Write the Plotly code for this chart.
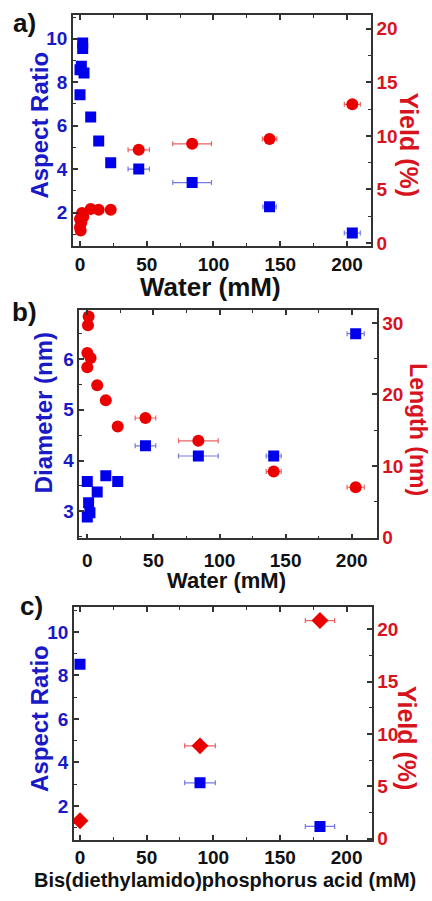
import plotly.graph_objects as go

# ---------------- data ----------------
# Panel a: aspect ratio and yield vs water
a_ar_x = [0, 0, 1, 2, 2, 3, 8, 14, 23, 44, 84, 142, 204]
a_ar_y = [7.42, 8.57, 8.73, 9.55, 9.8, 8.42, 6.4, 5.29, 4.29, 4.0, 3.38, 2.27, 1.06]
a_ar_xerr = [0, 0, 0, 0, 0, 0, 0, 0, 0, 8, 14.5, 5, 6]
a_yd_x = [0, 0, 1, 0.5, 2.5, 1.5, 8, 14, 23, 44, 84, 142, 204]
a_yd_y = [1.48, 2.24, 1.94, 1.17, 2.46, 2.8, 3.17, 3.1, 3.1, 8.7, 9.26, 9.7, 12.95]
a_yd_xerr = [0, 0, 0, 0, 0, 0, 0, 0, 0, 8, 14.5, 5.4, 6]

# Panel b: diameter and length vs water
b_d_x = [0, 1, 2, 0, 7.5, 14, 23, 44, 84, 141, 203]
b_d_y = [3.59, 3.17, 2.97, 2.89, 3.38, 3.7, 3.59, 4.29, 4.09, 4.09, 6.5]
b_d_xerr = [0, 0, 0, 0, 0, 0, 0, 7.8, 15, 5.7, 6.5]
b_l_x = [1, 0.5, 0, 2.5, 0, 7.5, 14, 23, 44, 84, 141, 203]
b_l_y = [30.9, 29.7, 25.8, 25.1, 23.8, 21.3, 19.2, 15.5, 16.7, 13.5, 9.2, 7.0]
b_l_xerr = [0, 0, 0, 0, 0, 0, 0, 0, 7.8, 15, 5.7, 6.5]

# Panel c: aspect ratio and yield vs bis(diethylamido)phosphorus acid
c_ar_x = [0, 90, 180]
c_ar_y = [8.51, 3.06, 1.06]
c_ar_xerr = [0, 11.5, 11]
c_yd_x = [0, 90, 180]
c_yd_y = [1.73, 8.88, 20.85]
c_yd_xerr = [0, 11.5, 11]

# ---------------- style ----------------
W, H = 432, 901
FONT = "Liberation Sans, Arial, sans-serif"
BLUE = "rgb(0,0,235)"
BLUE_T = "rgb(25,25,200)"
BLUE_E = "rgb(120,120,230)"
RED = "rgb(235,0,0)"
RED_T = "rgb(215,20,30)"
RED_E = "rgb(235,100,100)"
AX = "#333333"


def px(x):
    return x / W


def py(y):
    return 1 - y / H


fig = go.Figure()


def add(x, y, err, xa, ya, color, ecolor, symbol, size):
    fig.add_trace(go.Scatter(
        x=x, y=y, mode="markers", xaxis=xa, yaxis=ya,
        marker=dict(color=color, symbol=symbol, size=size, line=dict(width=0)),
        error_x=dict(type="data", array=err, visible=True, color=ecolor,
                     thickness=1.2, width=2.5),
        showlegend=False, hoverinfo="x+y"))


add(a_ar_x, a_ar_y, a_ar_xerr, "x", "y", BLUE, BLUE_E, "square", 11)
add(a_yd_x, a_yd_y, a_yd_xerr, "x", "y2", RED, RED_E, "circle", 12)
add(b_d_x, b_d_y, b_d_xerr, "x2", "y3", BLUE, BLUE_E, "square", 11)
add(b_l_x, b_l_y, b_l_xerr, "x2", "y4", RED, RED_E, "circle", 12)
add(c_ar_x, c_ar_y, c_ar_xerr, "x3", "y5", BLUE, BLUE_E, "square", 11)
add(c_yd_x, c_yd_y, c_yd_xerr, "x3", "y6", RED, RED_E, "diamond", 13)

tickfont_k = dict(family=FONT, size=19, color="#111111", weight="bold")
tickfont_b = dict(family=FONT, size=19, color=BLUE_T, weight="bold")
tickfont_r = dict(family=FONT, size=19, color=RED_T, weight="bold")


def xax(dom, rng, anchor, standoff=0):
    return dict(domain=dom, range=rng, anchor=anchor, dtick=50, tick0=0,
                showline=True, linecolor=AX, linewidth=1.5, mirror="ticks",
                ticks="inside", ticklen=5, tickwidth=1.5, tickcolor=AX,
                minor=dict(dtick=25, ticks="inside", ticklen=3, tickwidth=1.2, tickcolor=AX),
                showgrid=False, zeroline=False, tickfont=tickfont_k,
                ticklabelstandoff=standoff)


def yax(dom, rng, anchor, dtick, mdtick, tf, side="left", overlay=None):
    d = dict(domain=dom, range=rng, anchor=anchor, dtick=dtick, tick0=0,
             showline=True, linecolor=AX, linewidth=1.5, side=side,
             ticks="inside", ticklen=5, tickwidth=1.5, tickcolor=AX,
             minor=dict(dtick=mdtick, ticks="inside", ticklen=3, tickwidth=1.2, tickcolor=AX),
             showgrid=False, zeroline=False, tickfont=tf)
    if overlay:
        d["overlaying"] = overlay
    return d


# plot-area pixel boxes (left, top, right, bottom)
A = (73, 15, 371, 249)
B = (79.3, 313.3, 376.7, 544.3)
C = (74, 614.3, 371.7, 849.3)


def xd(b):
    return [px(b[0]), px(b[2])]


def yd(b):
    return [py(b[3]), py(b[1])]


fig.update_layout(
    width=W, height=H, margin=dict(l=0, r=0, t=0, b=0),
    paper_bgcolor="white", plot_bgcolor="white",
    xaxis=xax(xd(A), [-5.25, 218], "y", 0),
    yaxis=yax(yd(A), [0.45, 11.1], "x", 2, 1, tickfont_b),
    yaxis2=yax(yd(A), [-0.3, 21.3], "x", 5, 2.5, tickfont_r, "right", "y"),
    xaxis2=xax(xd(B), [-6.05, 218.9], "y3", 4),
    yaxis3=yax(yd(B), [2.47, 6.97], "x2", 1, 0.5, tickfont_b),
    yaxis4=yax(yd(B), [-0.14, 31.85], "x2", 10, 5, tickfont_r, "right", "y3"),
    xaxis3=xax(xd(C), [-4.5, 218.8], "y5", 0),
    yaxis5=yax(yd(C), [0.44, 11.12], "x3", 2, 1, tickfont_b),
    yaxis6=yax(yd(C), [-0.1, 22.1], "x3", 5, 2.5, tickfont_r, "right", "y5"),
)


def ann(text, x, y, size, color, angle=0):
    fig.add_annotation(text=text, x=px(x), y=py(y), xref="paper", yref="paper",
                       xanchor="center", yanchor="middle", showarrow=False,
                       textangle=angle,
                       font=dict(family=FONT, size=size, color=color, weight="bold"))


# panel labels
ann("a)", 24, 23, 26, "#111111")
ann("b)", 24, 315, 26, "#111111")
ann("c)", 31, 613, 26, "#111111")
# axis titles
ann("Aspect Ratio", 40, 127, 24, BLUE_T, -90)
ann("Yield (%)", 409, 146, 25, RED_T, 90)
ann("Water (mM)", 210, 290, 26, "#111111")
ann("Diameter (nm)", 43, 418, 24, BLUE_T, -90)
ann("Length (nm)", 418, 434, 23, RED_T, 90)
ann("Water (mM)", 227, 587, 22, "#111111")
ann("Aspect Ratio", 40, 727, 24, BLUE_T, -90)
ann("Yield (%)", 407, 746, 25, RED_T, 90)
ann("Bis(diethylamido)phosphorus acid (mM)", 225, 890, 20, "#111111")

# remove the browser's default page margin so the figure sits at (0, 0)
fig.write_html("out.html", config={"displayModeBar": False},
               post_script="document.body.style.margin='0';document.body.style.padding='0';")
